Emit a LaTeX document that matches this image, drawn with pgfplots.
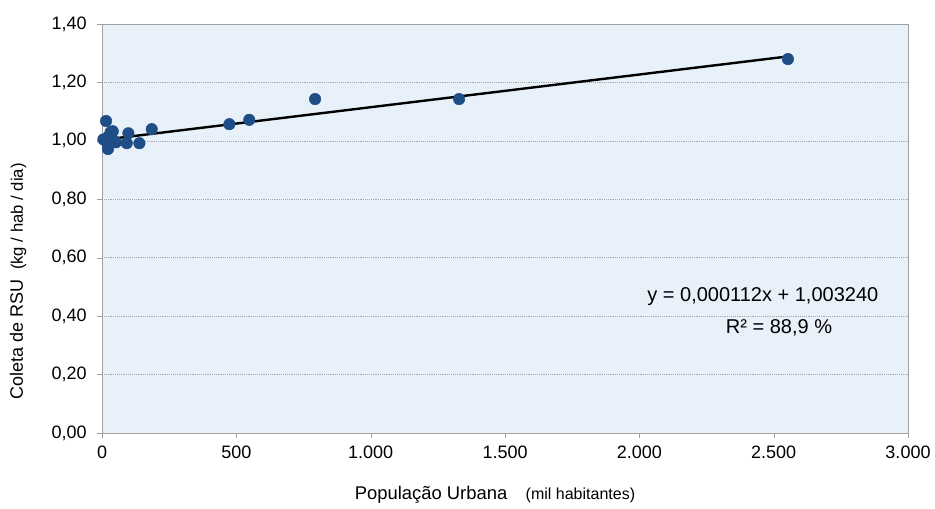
\documentclass[border=0pt]{standalone}
\usepackage{pgfplots}
\pgfplotsset{compat=1.18}
\usepackage{fontspec}
\setmainfont{Liberation Sans}
\definecolor{bgblue}{HTML}{E8F0FA}
\definecolor{mk}{HTML}{1F4E86}
\definecolor{ax}{HTML}{A0A0A0}
\begin{document}
\begin{tikzpicture}
\begin{axis}[
  scale only axis,
  width=604.5pt, height=306.75pt,
  xmin=0, xmax=3000, ymin=0, ymax=1.4,
  axis background/.style={fill=bgblue},
  axis line style={ax},
  axis x line*=bottom, axis y line*=left,
  xtick={0,500,...,3000},
  ytick={0,0.2,...,1.4},
  tick align=outside, tick style={ax},
  major tick length=4pt,
  ymajorgrids, grid style={densely dotted, gray!70},
  /pgf/number format/.cd, use comma, 1000 sep={.}, assume math mode=true,
  /pgfplots/.cd,
  yticklabel style={/pgf/number format/fixed, /pgf/number format/fixed zerofill, /pgf/number format/precision=2, xshift=-4pt},
  xticklabel style={yshift=-2pt},
  tick label style={font=\fontsize{13.5}{15}\selectfont},
  xlabel={\fontsize{13.8}{16}\selectfont Popula\c{c}\~ao Urbana\quad{\fontsize{12}{14}\selectfont(mil habitantes)}},
  ylabel={\fontsize{13.5}{16}\selectfont Coleta de RSU\ \ {\fontsize{12.5}{14}\selectfont(kg / hab / dia)}},
  xlabel style={at={(axis description cs:0.4876,-0.1516)}, anchor=center},
  ylabel style={at={(axis description cs:-0.1042,0.37)}, anchor=center, rotate=0},
  clip=false,
]
\draw[ax] (rel axis cs:1,0) -- (rel axis cs:1,1) -- (rel axis cs:0,1);
\addplot[only marks, mark=*, mark size=4.3pt, mk] coordinates {
(5,1.005) (15,1.068) (20,0.99) (25,1.015) (32,1.03) (22,0.972) (40,1.033) (45,1.0) (52,0.995)
(92,0.992) (98,1.026) (139,0.992) (185,1.040) (474,1.057) (548,1.072) (793,1.143) (1329,1.143) (2553,1.280)
};
\addplot[black, line width=1.8pt] coordinates {(0,1.00324) (2553,1.289)};
\node[anchor=east, font=\fontsize{15}{17}\selectfont] at (axis cs:2907,0.466) {y = 0,000112x + 1,003240};
\node[font=\fontsize{15}{17}\selectfont] at (axis cs:2520,0.36) {R² = 88,9 \%};
\path (rel axis cs:-0.1266,-0.1785) rectangle (rel axis cs:1.0335,1.0587);
\end{axis}
\end{tikzpicture}
\end{document}
